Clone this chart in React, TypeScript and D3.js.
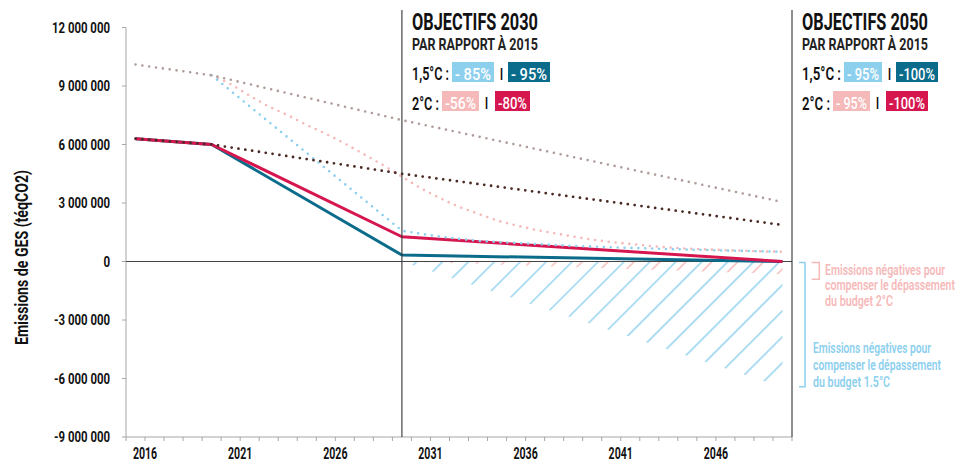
import React from 'react';
import * as d3 from 'd3';

// ---------- DATA (values in millions of tCO2e) ----------
const years: number[] = d3.range(2016, 2051);
const yTicks = [12e6, 9e6, 6e6, 3e6, 0, -3e6, -6e6, -9e6];
const xLabelYears = [2016, 2021, 2026, 2031, 2036, 2041, 2046];

const trendHigh: [number, number][] = [[2016, 10.1], [2020, 9.55], [2030, 7.25], [2050, 3.05]];
const trendLow: [number, number][] = [[2016, 6.3], [2020, 6.0], [2030, 4.5], [2050, 1.87]];
const scenario2C: [number, number][] = [[2016, 6.3], [2020, 6.0], [2030, 1.27], [2050, 0]];
const scenario15C: [number, number][] = [[2016, 6.3], [2020, 6.0], [2030, 0.33], [2050, 0]];
const budget15C: [number, number][] = [
  [2020, 9.55], [2030, 1.58], [2031, 1.42], [2032, 1.28], [2033, 1.16], [2034, 1.06], [2035, 1.0],
  [2036, 0.95], [2037, 0.9], [2038, 0.85], [2039, 0.8], [2040, 0.77], [2041, 0.73], [2042, 0.7],
  [2043, 0.67], [2044, 0.64], [2045, 0.61], [2046, 0.59], [2047, 0.56], [2048, 0.54], [2049, 0.52], [2050, 0.5],
];
const budget2C: [number, number][] = [
  [2020, 9.55], [2021, 9.1], [2022, 8.5], [2023, 7.95], [2024, 7.5], [2025, 7.0], [2026, 6.55],
  [2027, 6.05], [2028, 5.5], [2029, 4.95], [2030, 4.35], [2031, 3.75], [2032, 3.25], [2033, 2.8],
  [2034, 2.45], [2035, 2.1], [2036, 1.85], [2037, 1.63], [2038, 1.45], [2039, 1.28], [2040, 1.12],
  [2041, 1.0], [2042, 0.9], [2043, 0.8], [2044, 0.72], [2045, 0.66], [2046, 0.62], [2047, 0.58],
  [2048, 0.55], [2049, 0.52], [2050, 0.5],
];
const negative15C: [number, number][] = [[2030, 0], [2050, -6.45]];
const negative2C: [number, number][] = [[2030, 0], [2050, -0.65]];

const objectives2030 = [
  { label: '1,5°C :', values: ['- 85%', '- 95%'] },
  { label: '2°C :', values: ['-56%', '-80%'] },
];
const objectives2050 = [
  { label: '1,5°C :', values: ['- 95%', '-100%'] },
  { label: '2°C :', values: ['- 95%', '-100%'] },
];
const yTitle = 'Emissions de GES (téqCO2)';
const note2C = ['Emissions négatives pour', 'compenser le dépassement', 'du budget 2°C'];
const note15C = ['Emissions négatives pour', 'compenser le dépassement', 'du budget 1.5°C'];

// ---------- STYLE ----------
const C = {
  lightBlue: '#8dd0ee',
  teal: '#0b6b8a',
  pink: '#f6b9b9',
  crimson: '#d6164f',
  taupe: '#ad9c98',
  brown: '#4a2a24',
  axis: '#a6a6a6',
};
const FONT = "Roboto, 'DejaVu Sans', sans-serif";

const fmt = d3.formatLocale({ thousands: ' ', grouping: [3], decimal: ',', currency: ['', ''], minus: '-' }).format(',d');
// approximate condensed glyph widths for tick labels
const labelWidth = (s: string) =>
  s.split('').reduce((acc, ch) => acc + (ch === ' ' ? 2.6 : ch === '-' ? 4.5 : 6.6), 0);

export default function App() {
  const x = d3.scaleBand<number>().domain(years).range([126, 792]).padding(0);
  const bw = x.bandwidth();
  const cx = (yr: number) => (x(yr) as number) + bw / 2;
  const y = d3.scaleLinear().domain([-9e6, 12e6]).range([437, 27.5]);

  const line = d3.line<[number, number]>().x(d => cx(d[0])).y(d => y(d[1] * 1e6));
  const area = d3.area<[number, number]>().x(d => cx(d[0])).y0(y(0)).y1(d => y(d[1] * 1e6));

  const dotted = (data: [number, number][], color: string, w = 2.6) => (
    <path d={line(data) || ''} fill="none" stroke={color} strokeWidth={w}
      strokeDasharray="0 6.9" strokeLinecap="round" />
  );

  const layout2030 = [
    { y0: 62, base: 80, labelW: 37, sep: 501.5, boxes: [[452, 42], [508, 42]] },
    { y0: 91, base: 109.5, labelW: 27, sep: 486.5, boxes: [[442, 37], [495, 35]] },
  ];
  const layout2050 = [
    { y0: 62, base: 80, labelW: 39, sep: 889.5, boxes: [[844, 38], [896, 42]] },
    { y0: 91, base: 109.5, labelW: 28, sep: 877.5, boxes: [[833, 37], [886, 42]] },
  ];
  const rowColors = [[C.lightBlue, C.teal], [C.pink, C.crimson]];

  const objBlock = (x0: number, title: string, objs: typeof objectives2030, lay: typeof layout2030) => (
    <g>
      <text x={x0} y={30} fontSize={23.5} fontWeight={700} fill="#111" textLength={126}
        lengthAdjust="spacingAndGlyphs">{title}</text>
      <text x={x0} y={50} fontSize={16.5} fontWeight={700} fill="#222" textLength={126}
        lengthAdjust="spacingAndGlyphs">PAR RAPPORT À 2015</text>
      {objs.map((o, i) => {
        const L = lay[i];
        return (
          <g key={i}>
            <text x={x0} y={L.base} fontSize={18} fontWeight={600} fill="#111" textLength={L.labelW}
              lengthAdjust="spacingAndGlyphs">{o.label}</text>
            {o.values.map((v, j) => {
              const [bx, w] = L.boxes[j];
              return (
                <g key={j}>
                  <rect x={bx} y={L.y0} width={w} height={20} fill={rowColors[i][j]} />
                  <text x={bx + 3} y={L.base - 0.5} fontSize={17} fontWeight={500}
                    fill="#fff" textLength={w - 6} lengthAdjust="spacingAndGlyphs">{v}</text>
                </g>
              );
            })}
            <text x={L.sep - 1.5} y={L.base - 0.5} fontSize={17} fontWeight={700} fill="#111"
              textLength={3} lengthAdjust="spacingAndGlyphs">I</text>
          </g>
        );
      })}
    </g>
  );

  return (
    <svg width={955} height={461} style={{ position: 'absolute', left: 0, top: 0, background: '#fff' }}
      fontFamily={FONT}>
      <defs>
        <pattern id="hatchBlue" patternUnits="userSpaceOnUse" width={18.34} height={18.34}
          patternTransform="rotate(45)">
          <line x1={2.76} y1={-1} x2={2.76} y2={19.5} stroke={C.lightBlue} strokeWidth={1.4} />
        </pattern>
        <pattern id="hatchPink" patternUnits="userSpaceOnUse" width={18.34} height={18.34}
          patternTransform="rotate(45)">
          <line x1={9.9} y1={-1} x2={9.9} y2={19.5} stroke={C.pink} strokeWidth={1.4} />
        </pattern>
      </defs>

      {/* negative emission areas */}
      <path d={area(negative15C) || ''} fill="url(#hatchBlue)" />
      <path d={area(negative2C) || ''} fill="url(#hatchPink)" />

      {/* axes */}
      <line x1={126} x2={126} y1={y(12e6)} y2={437} stroke={C.axis} strokeWidth={1} />
      <line x1={126} x2={792} y1={437} y2={437} stroke={C.axis} strokeWidth={1} />
      {yTicks.map(t => {
        const w = labelWidth(fmt(t));
        return (
          <g key={t}>
            <line x1={122} x2={126} y1={y(t)} y2={y(t)} stroke={C.axis} />
            <text x={110 - w} y={y(t) + 5} fontSize={14.2}
              fontWeight={700} fill="#111" textLength={w}
              lengthAdjust="spacingAndGlyphs">{fmt(t)}</text>
          </g>
        );
      })}
      {years.concat([2015]).map(yr => {
        const xx = yr === 2015 ? 126 : (x(yr) as number) + bw;
        return <line key={yr} x1={xx} x2={xx} y1={437} y2={441} stroke={C.axis} />;
      })}
      {xLabelYears.map(yr => (
        <text key={yr} x={(x(yr) as number) + bw - 12.15} y={459}
          fontSize={16.5} fontWeight={700} fill="#111" textLength={24.3}
          lengthAdjust="spacingAndGlyphs">{yr}</text>
      ))}
      <text transform="translate(28,345) rotate(-90)" fontSize={17.5} fontWeight={700}
        fill="#111" textLength={175} lengthAdjust="spacingAndGlyphs">{yTitle}</text>

      {/* zero line */}
      <line x1={126} x2={792} y1={y(0)} y2={y(0)} stroke="#444" strokeWidth={1.2} />

      {/* scenario lines */}
      <path d={line(scenario15C) || ''} fill="none" stroke={C.teal} strokeWidth={3} strokeLinejoin="round" />
      <path d={line(scenario2C) || ''} fill="none" stroke={C.crimson} strokeWidth={3} strokeLinejoin="round" />
      {dotted(budget2C, C.pink)}
      {dotted(budget15C, C.lightBlue)}
      {dotted(trendHigh, C.taupe)}
      {dotted(trendLow, C.brown, 2.8)}

      {/* separators */}
      <line x1={cx(2030)} x2={cx(2030)} y1={10} y2={437} stroke="#333" strokeWidth={1.1} />
      <line x1={792} x2={792} y1={10} y2={437} stroke="#333" strokeWidth={1.1} />

      {objBlock(412, 'OBJECTIFS 2030', objectives2030, layout2030)}
      {objBlock(802, 'OBJECTIFS 2050', objectives2050, layout2050)}

      {/* brackets and notes */}
      <path d={`M799,${y(0) + 1}H805V386.7H799`} fill="none" stroke={C.lightBlue} strokeWidth={1.5} />
      <path d={`M811.7,${y(0) + 1}H819.3V279.3H811.7`} fill="none" stroke={C.pink} strokeWidth={1.5} />
      {note2C.map((t, i) => (
        <text key={i} x={825} y={274.5 + i * 15.5} fontSize={15.5} fontWeight={600} fill={C.pink}
          textLength={[120, 130, 68][i]} lengthAdjust="spacingAndGlyphs">{t}</text>
      ))}
      {note15C.map((t, i) => (
        <text key={i} x={813} y={352.5 + i * 17} fontSize={15.5} fontWeight={600} fill={C.lightBlue}
          textLength={[118, 128, 77][i]} lengthAdjust="spacingAndGlyphs">{t}</text>
      ))}
    </svg>
  );
}
